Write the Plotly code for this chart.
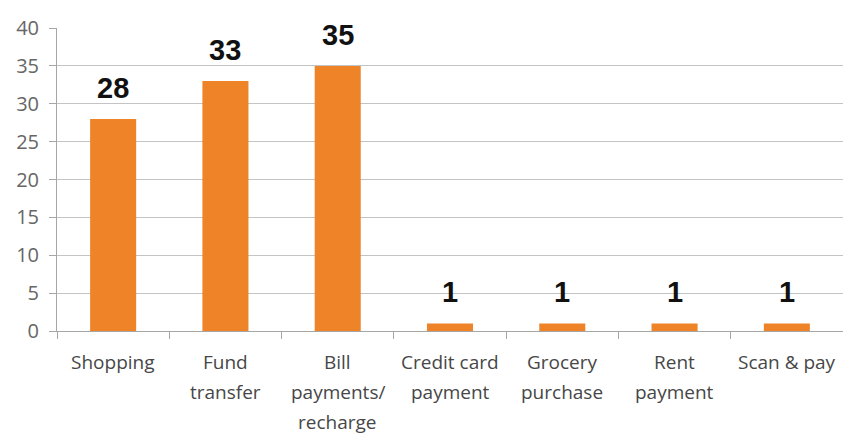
import plotly.graph_objects as go

# Mobile payment usage by purpose
categories = ["Shopping", "Fund transfer", "Bill payments/ recharge",
              "Credit card payment", "Grocery purchase", "Rent payment", "Scan & pay"]
label_lines = [["Shopping"], ["Fund", "transfer"], ["Bill", "payments/", "recharge"],
               ["Credit card", "payment"], ["Grocery", "purchase"], ["Rent", "payment"],
               ["Scan & pay"]]
values = [28, 33, 35, 1, 1, 1, 1]
y_ticks = [0, 5, 10, 15, 20, 25, 30, 35, 40]

BAR = "#EE8327"
GRID = "#C4C4C4"
FONT = "Open Sans, Lato, sans-serif"

fig = go.Figure(go.Bar(
    x=categories, y=values,
    marker=dict(color=BAR, line=dict(width=0)),
    width=0.41,
))

# value labels above each bar
for c, v in zip(categories, values):
    fig.add_annotation(x=c, y=v, xref="x", yref="y", text=str(v), showarrow=False,
                       yanchor="bottom", yshift=13,
                       font=dict(family="Liberation Sans, Arial", size=29, color="#111111",
                                 weight="bold"))

# multi-line category labels
for c, lines in zip(categories, label_lines):
    for i, line in enumerate(lines):
        fig.add_annotation(x=c, y=0, xref="x", yref="y", text=line, showarrow=False,
                           yanchor="top", yshift=-16 - 30 * i,
                           font=dict(family=FONT, size=19, color="#474747"))

fig.update_layout(
    width=843, height=435,
    margin=dict(l=57, r=0, t=28, b=104),
    paper_bgcolor="white", plot_bgcolor="white",
    showlegend=False,
    xaxis=dict(
        showticklabels=False, tickson="boundaries", ticks="outside", ticklen=7,
        tickcolor="#A6A6A6", showline=True, linecolor="#A6A6A6", linewidth=1,
        showgrid=False, range=[-0.5, 6.5],
    ),
    yaxis=dict(
        range=[0, 40], tickvals=y_ticks, ticks="outside", ticklen=7, tickcolor="#A6A6A6",
        showline=True, linecolor="#A6A6A6", linewidth=1,
        gridcolor=GRID, gridwidth=1, zeroline=False, ticklabelstandoff=6,
        tickfont=dict(family=FONT, size=20, color="#666666"),
    ),
)

fig.write_html("out.html")
